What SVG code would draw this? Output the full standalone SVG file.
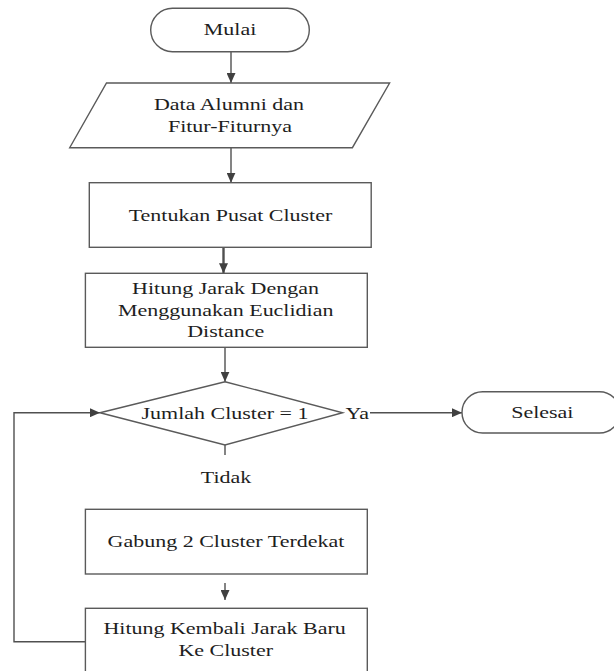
<svg xmlns="http://www.w3.org/2000/svg" width="614" height="671" viewBox="0 0 614 671">
<style>
.s{fill:#fff;stroke:#5a5a5a;stroke-width:1.4}
.c{fill:none;stroke:#505050;stroke-width:1.4}
.t{font-family:"Liberation Serif","Times New Roman",serif;font-size:16px;fill:#1e1e1e;text-anchor:middle}
</style>
<defs>
<marker id="ah" markerUnits="userSpaceOnUse" markerWidth="10" markerHeight="9" refX="10" refY="4.5" orient="auto">
<path d="M0,0 L10,4.5 L0,9 z" fill="#404040"/>
</marker>
</defs>
<rect width="614" height="671" fill="#fff"/>
<g id="connectors">
<line class="c" x1="231" y1="52" x2="231" y2="83" marker-end="url(#ah)"/>
<line class="c" x1="231" y1="148" x2="231" y2="182.7" marker-end="url(#ah)"/>
<line class="c" x1="223.5" y1="241.5" x2="223.5" y2="273.3" style="stroke-width:2.4" marker-end="url(#ah)"/>
<line class="c" x1="225" y1="347.3" x2="225" y2="381.7" marker-end="url(#ah)"/>
<line class="c" x1="225" y1="445" x2="225" y2="455"/>
<line class="c" x1="370" y1="412.7" x2="462" y2="412.7" marker-end="url(#ah)"/>
<line class="c" x1="225" y1="583" x2="225" y2="600" marker-end="url(#ah)"/>
<path class="c" d="M85.4 641.7 H14 V412.7 H100" marker-end="url(#ah)"/>
</g>
<g id="mulai">
<rect class="s" x="150.7" y="8.3" width="158.6" height="43.4" rx="21.7"/>
<text class="t" transform="translate(230 35.3) scale(1.375 1)">Mulai</text>
</g>
<g id="data">
<polygon class="s" points="106.5,83 389.6,83 352.4,147.7 69.7,147.7"/>
<text class="t" transform="translate(229 110) scale(1.375 1)">Data Alumni dan</text>
<text class="t" transform="translate(230 131.6) scale(1.375 1)">Fitur-Fiturnya</text>
</g>
<g id="tentukan">
<rect class="s" x="89.3" y="182.7" width="281.9" height="64.6"/>
<text class="t" transform="translate(230.5 220.5) scale(1.375 1)">Tentukan Pusat Cluster</text>
</g>
<g id="hitung">
<rect class="s" x="85.4" y="273.3" width="281.9" height="74"/>
<text class="t" transform="translate(225.5 294.3) scale(1.375 1)">Hitung Jarak Dengan</text>
<text class="t" transform="translate(225.7 315.6) scale(1.375 1)">Menggunakan Euclidian</text>
<text class="t" transform="translate(225.7 336.9) scale(1.375 1)">Distance</text>
</g>
<g id="decision">
<polygon class="s" points="225,381.7 342.6,412.7 225,445 100,412.7"/>
<text class="t" transform="translate(225 418.8) scale(1.375 1)">Jumlah Cluster = 1</text>
</g>
<text class="t" transform="translate(357.3 418.8) scale(1.375 1)">Ya</text>
<text class="t" transform="translate(226 482.7) scale(1.375 1)">Tidak</text>
<g id="selesai">
<rect class="s" x="462" y="391.7" width="158" height="41.3" rx="20.6"/>
<text class="t" transform="translate(542.3 417.8) scale(1.375 1)">Selesai</text>
</g>
<g id="gabung">
<rect class="s" x="85.4" y="509.3" width="281.9" height="64.7"/>
<text class="t" transform="translate(226 547) scale(1.375 1)">Gabung 2 Cluster Terdekat</text>
</g>
<g id="hitung-kembali">
<rect class="s" x="85.4" y="608.3" width="281.9" height="80"/>
<text class="t" transform="translate(224.6 634) scale(1.375 1)">Hitung Kembali Jarak Baru</text>
<text class="t" transform="translate(225.7 656) scale(1.375 1)">Ke Cluster</text>
</g>
</svg>
